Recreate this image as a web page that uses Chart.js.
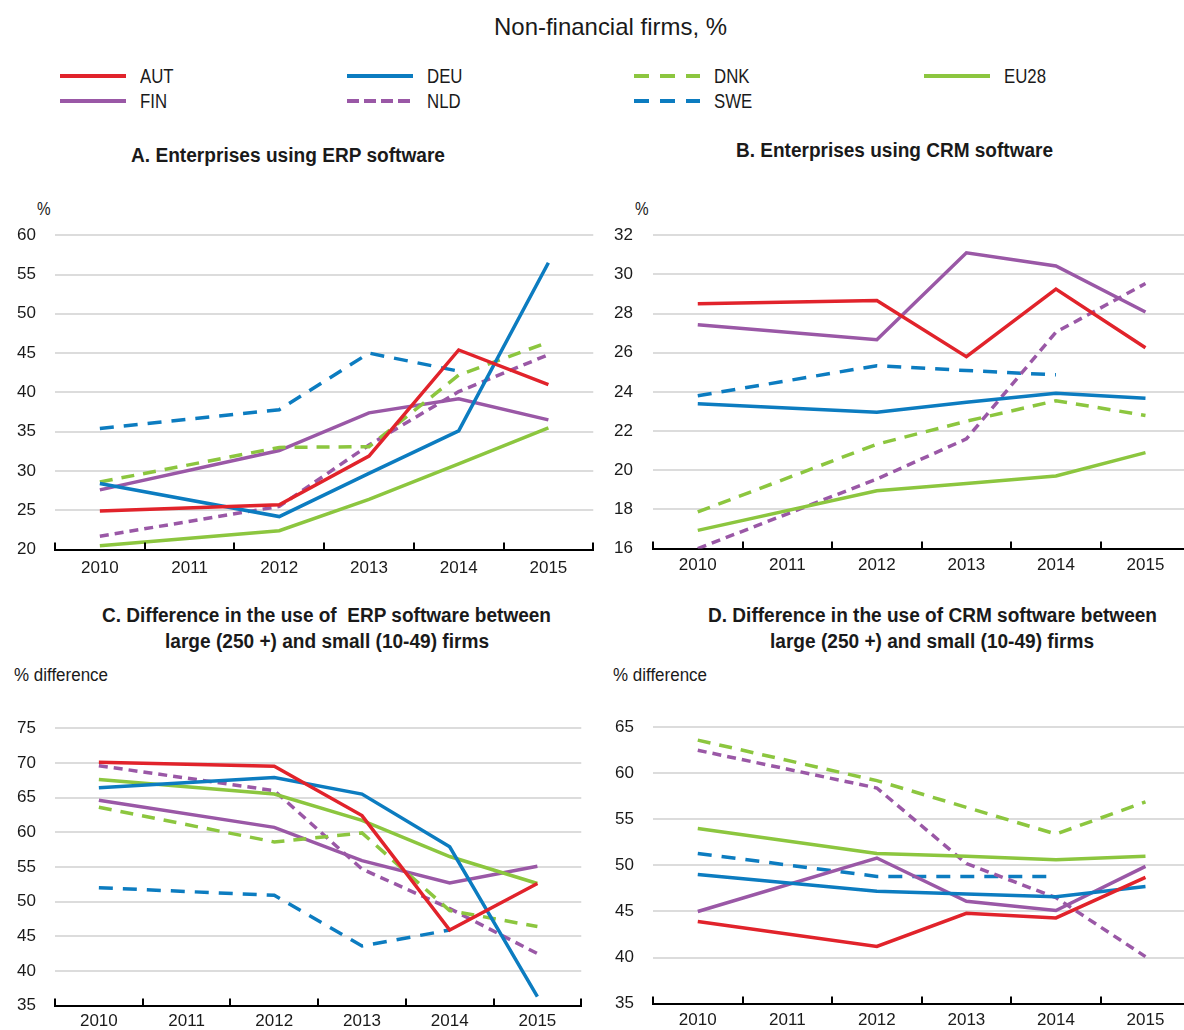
<!DOCTYPE html>
<html lang="en">
<head>
<meta charset="UTF-8">
<title>Non-financial firms, %</title>
<script src="https://cdn.jsdelivr.net/npm/chart.js"></script>
<style>
    body {
        margin: 0;
        width: 1184px;
        height: 1030px;
        position: relative;
        overflow: hidden;
        background: #fff;
        font-family: 'Liberation Sans', Arial, sans-serif;
        color: #1a1a1a;
    }
    .txt {
        position: absolute;
        white-space: pre;
        line-height: 1;
        transform-origin: 0 50%;
    }
    svg.leg { position: absolute; }
    canvas { position: absolute; }
</style>
</head>
<body>
<div id="texts"></div>

<canvas id="chartA" width="600" height="360"></canvas>
<canvas id="chartB" width="600" height="360"></canvas>
<canvas id="chartC" width="595" height="315"></canvas>
<canvas id="chartD" width="600" height="315"></canvas>

<script>
    const years = ['2010', '2011', '2012', '2013', '2014', '2015'];
    const countries = ['AUT', 'DEU', 'DNK', 'EU28', 'FIN', 'NLD', 'SWE'];

    // A. ERP software, %
    const erpAUT = [24.9, null, 25.7, 31.9, 45.4, 41.0];
    const erpDEU = [28.4, null, 24.2, 29.7, 35.1, 56.5];
    const erpDNK = [28.6, null, 33.0, 33.1, 42.2, 46.4];
    const erpEU28 = [20.5, null, 22.4, 26.4, 30.9, 35.5];
    const erpFIN = [27.6, null, 32.6, 37.4, 39.2, 36.5];
    const erpNLD = [21.7, null, 25.5, 33.3, 40.1, 44.8];
    const erpSWE = [35.4, null, 37.8, 45.0, 42.7, null];

    // B. CRM software, %
    const crmAUT = [28.5, null, 28.67, 25.8, 29.25, 26.25];
    const crmDEU = [23.4, null, 22.96, 23.47, 23.93, 23.67];
    const crmDNK = [17.87, null, 21.33, 22.5, 23.55, 22.8];
    const crmEU28 = [16.93, null, 18.95, 19.32, 19.71, 20.9];
    const crmFIN = [27.43, null, 26.66, 31.1, 30.43, 28.08];
    const crmNLD = [16.0, null, 19.55, 21.6, 27.05, 29.53];
    const crmSWE = [23.8, null, 25.34, 25.09, 24.87, null];

    // C. ERP, large vs small, % difference
    const erpGapAUT = [70.1, null, 69.5, 62.4, 45.9, 52.6];
    const erpGapDEU = [66.4, null, 67.9, 65.5, 57.9, 36.3];
    const erpGapDNK = [63.6, null, 58.6, 59.9, 48.7, 46.4];
    const erpGapEU28 = [67.6, null, 65.5, 61.7, 56.5, 52.6];
    const erpGapFIN = [64.6, null, 60.7, 55.9, 52.7, 55.1];
    const erpGapNLD = [69.6, null, 66.0, 54.7, 49.0, 42.5];
    const erpGapSWE = [52.0, null, 50.9, 43.6, 45.9, null];

    // D. CRM, large vs small, % difference
    const crmGapAUT = [43.9, null, 41.2, 44.8, 44.3, 48.7];
    const crmGapDEU = [49.0, null, 47.2, 46.9, 46.6, 47.7];
    const crmGapDNK = [63.6, null, 59.2, 56.3, 53.4, 56.9];
    const crmGapEU28 = [54.0, null, 51.3, 51.0, 50.6, 51.0];
    const crmGapFIN = [45.0, null, 50.8, 46.1, 45.1, 49.9];
    const crmGapNLD = [62.5, null, 58.4, 50.2, 46.5, 40.1];
    const crmGapSWE = [51.3, null, 48.8, 48.8, 48.8, null];

    const RED = '#e1232b', BLUE = '#0c7cc0', GREEN = '#8cc63f', PURPLE = '#9a58a6';
    const styles = {
        AUT: { color: RED, dash: [], legDash: '' },
        DEU: { color: BLUE, dash: [], legDash: '' },
        DNK: { color: GREEN, dash: [13, 9], legDash: '15,11' },
        EU28: { color: GREEN, dash: [], legDash: '' },
        FIN: { color: PURPLE, dash: [], legDash: '' },
        NLD: { color: PURPLE, dash: [9, 6], legDash: '12,5' },
        SWE: { color: BLUE, dash: [14, 10], legDash: '15,11' }
    };

    Chart.defaults.font.family = "'Liberation Sans', Arial, sans-serif";
    Chart.defaults.color = '#1a1a1a';

    // ---- text (narrow look = Liberation Sans squeezed horizontally)
    const textBox = document.getElementById('texts');
    function addText(str, x, yMid, size, opts) {
        opts = opts || {};
        const el = document.createElement('span');
        el.className = 'txt';
        el.textContent = str;
        el.style.fontSize = size + 'px';
        if (opts.bold) el.style.fontWeight = 'bold';
        el.style.left = x + 'px';
        el.style.top = (yMid - size * 0.5) + 'px';
        textBox.appendChild(el);
        let sx = opts.squeeze || 1;
        if (opts.width) sx = opts.width / el.getBoundingClientRect().width;
        el.style.transform = 'scaleX(' + sx + ')';
        return el;
    }

    addText('Non-financial firms, %', 494, 27, 24, { width: 233 });

    addText('A. Enterprises using ERP software', 131, 155, 20, { bold: true, width: 314 });
    addText('B. Enterprises using CRM software', 736, 150, 20, { bold: true, width: 317 });
    addText('C. Difference in the use of  ERP software between', 102, 615, 20, { bold: true, width: 449 });
    addText('large (250 +) and small (10-49) firms', 165, 641, 20, { bold: true, width: 324 });
    addText('D. Difference in the use of CRM software between', 708, 615, 20, { bold: true, width: 449 });
    addText('large (250 +) and small (10-49) firms', 770, 641, 20, { bold: true, width: 324 });

    addText('%', 37, 209, 18, { squeeze: 0.85 });
    addText('%', 635, 209, 18, { squeeze: 0.85 });
    addText('% difference', 14, 675, 18, { width: 94 });
    addText('% difference', 613, 675, 18, { width: 94 });

    // legend, 4 columns x 2 rows
    const legendPos = [
        ['AUT', 60, 76], ['DEU', 347, 76], ['DNK', 634, 76], ['EU28', 924, 76],
        ['FIN', 60, 101], ['NLD', 347, 101], ['SWE', 634, 101]
    ];
    legendPos.forEach(([name, x, y]) => {
        const s = styles[name];
        const svg = document.createElementNS('http://www.w3.org/2000/svg', 'svg');
        svg.setAttribute('width', 66);
        svg.setAttribute('height', 8);
        svg.setAttribute('class', 'leg');
        svg.style.left = x + 'px';
        svg.style.top = (y - 4) + 'px';
        svg.innerHTML = '<line x1="0" y1="4" x2="66" y2="4" stroke="' + s.color + '" stroke-width="4"' +
            (s.legDash ? ' stroke-dasharray="' + s.legDash + '"' : '') + '/>';
        textBox.appendChild(svg);
        addText(name, x + 80, y, 20, { squeeze: 0.84 });
    });

    // upward tick marks on the category boundaries
    const boundaryTicks = {
        id: 'boundaryTicks',
        afterDraw(chart) {
            const xs = chart.scales.x;
            const ctx = chart.ctx;
            const n = chart.data.labels.length;
            const step = (xs.right - xs.left) / n;
            ctx.save();
            ctx.strokeStyle = '#000';
            ctx.lineWidth = 2;
            for (let i = 0; i <= n; i++) {
                const x = Math.round(xs.left + i * step);
                ctx.beginPath();
                ctx.moveTo(x, xs.top);
                ctx.lineTo(x, xs.top - 7);
                ctx.stroke();
            }
            ctx.restore();
        }
    };

    function makePanel(id, series, yMin, yMax, step, yPad, xPad, area) {
        const datasets = countries.map((c, i) => ({
            label: c,
            data: series[i],
            borderColor: styles[c].color,
            backgroundColor: styles[c].color,
            borderDash: styles[c].dash,
            borderWidth: 3.5,
            pointRadius: 0,
            tension: 0,
            spanGaps: true,
            fill: false
        }));
        const chart = new Chart(document.getElementById(id), {
            type: 'line',
            data: { labels: years, datasets: datasets },
            options: {
                responsive: false,
                maintainAspectRatio: false,
                animation: false,
                layout: { padding: { top: 14, right: 0, bottom: 0, left: 0 } },
                plugins: { legend: { display: false }, tooltip: { enabled: false } },
                scales: {
                    x: {
                        offset: true,
                        grid: { display: true, drawOnChartArea: false, drawTicks: false },
                        border: { display: true, color: '#000', width: 2 },
                        ticks: { padding: xPad, font: { size: 17 }, maxRotation: 0 }
                    },
                    y: {
                        min: yMin,
                        max: yMax,
                        grid: { color: '#dcdcdc', lineWidth: 2, drawTicks: false },
                        border: { display: false },
                        ticks: { stepSize: step, padding: yPad, font: { size: 17 } },
                        afterFit(scale) { scale.width = 60; }
                    }
                }
            },
            plugins: [boundaryTicks]
        });

        // size the canvas so the plot area lands where the reference has it
        for (let k = 0; k < 3; k++) {
            const a = chart.chartArea;
            const dw = Math.round((area.right - area.left) - (a.right - a.left));
            const dh = Math.round((area.bottom - area.top) - (a.bottom - a.top));
            if (dw === 0 && dh === 0) break;
            chart.resize(chart.width + dw, chart.height + dh);
        }
        const a = chart.chartArea;
        chart.canvas.style.left = (area.left - a.left) + 'px';
        chart.canvas.style.top = (area.top - a.top) + 'px';
        return chart;
    }

    makePanel('chartA', [erpAUT, erpDEU, erpDNK, erpEU28, erpFIN, erpNLD, erpSWE],
        20, 60, 5, 19, 9, { left: 55, top: 235, right: 593, bottom: 549 });
    makePanel('chartB', [crmAUT, crmDEU, crmDNK, crmEU28, crmFIN, crmNLD, crmSWE],
        16, 32, 2, 20, 7, { left: 653, top: 235, right: 1190, bottom: 548 });
    makePanel('chartC', [erpGapAUT, erpGapDEU, erpGapDNK, erpGapEU28, erpGapFIN, erpGapNLD, erpGapSWE],
        35, 75, 5, 19, 6, { left: 55, top: 728, right: 581, bottom: 1005 });
    makePanel('chartD', [crmGapAUT, crmGapDEU, crmGapDNK, crmGapEU28, crmGapFIN, crmGapNLD, crmGapSWE],
        35, 65, 5, 19, 7, { left: 653, top: 727, right: 1190, bottom: 1003 });
</script>
</body>
</html>
